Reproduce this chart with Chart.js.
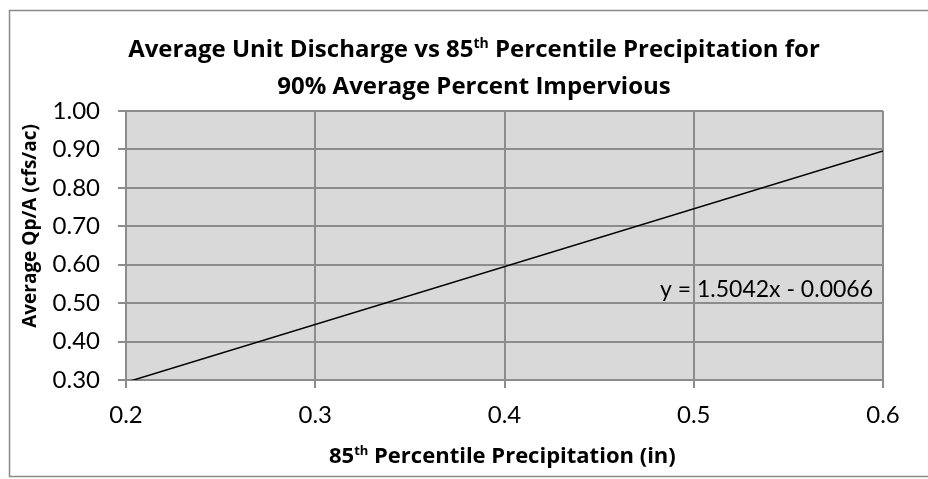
<!DOCTYPE html>
<html><head><meta charset="utf-8">
<script src="https://cdn.jsdelivr.net/npm/chart.js@4"></script>
<style>html,body{margin:0;padding:0;background:#fff}</style>
</head><body>
<canvas id="c" width="928" height="479"></canvas>
<script>
// ---- data ----
const xValues = [0.2, 0.6];
const yValues = [0.294, 0.896];
const xTicks = [0.2, 0.3, 0.4, 0.5, 0.6];
const yTicks = [0.30, 0.40, 0.50, 0.60, 0.70, 0.80, 0.90, 1.00];
const titleLine1 = [["Average Unit Discharge vs 85", false], ["th", true], [" Percentile Precipitation for", false]];
const titleLine2 = [["90% Average Percent Impervious", false]];
const xTitle = [["85", false], ["th", true], [" Percentile Precipitation (in)", false]];
const yTitle = "Average Qp/A (cfs/ac)";
const eqText = "y = 1.5042x - 0.0066";
const eqAt = { x: 0.6, y: 0.534 };

const FONT = "Lato";
const BFONT = "Open Sans";
const GRID = "#8c8c8c";

function richWidth(ctx, segs, size, weight, fam) {
  let w = 0;
  segs.forEach(([t, s]) => { ctx.font = `${weight} ${s ? Math.round(size * 0.6) : size}px "${fam}"`; w += ctx.measureText(t).width; });
  return w;
}
function drawRich(ctx, segs, startX, baseY, size, weight, fam) {
  let x = startX;
  ctx.textAlign = "left";
  ctx.textBaseline = "alphabetic";
  segs.forEach(([t, s]) => {
    ctx.font = `${weight} ${s ? Math.round(size * 0.6) : size}px "${fam}"`;
    ctx.fillText(t, x, s ? baseY - size * 0.36 : baseY);
    x += ctx.measureText(t).width;
  });
}
function drawRichCentered(ctx, segs, cx, baseY, size, weight, fam) {
  drawRich(ctx, segs, cx - richWidth(ctx, segs, size, weight, fam) / 2, baseY, size, weight, fam);
}

const decor = {
  id: "decor",
  beforeDraw(chart) {
    const { ctx, chartArea: a } = chart;
    ctx.save();
    ctx.fillStyle = "#fff";
    ctx.fillRect(0, 0, chart.width, chart.height);
    ctx.fillStyle = "#d9d9d9";
    ctx.fillRect(a.left, a.top, a.right - a.left, a.bottom - a.top);
    ctx.restore();
  },
  afterDraw(chart) {
    const { ctx, scales } = chart;
    ctx.save();
    ctx.strokeStyle = "#8a8a8a";
    ctx.lineWidth = 1.5;
    ctx.strokeRect(9.5, 10.5, 940, 466);
    ctx.fillStyle = "#000";
    drawRichCentered(ctx, titleLine1, 474, 57, 24, "bold", BFONT);
    drawRichCentered(ctx, titleLine2, 474, 94, 24, "bold", BFONT);
    drawRich(ctx, xTitle, 329, 463, 22, "bold", BFONT);
    ctx.save();
    ctx.translate(31, 226);
    ctx.rotate(-Math.PI / 2);
    ctx.font = `bold 19px "${BFONT}"`;
    ctx.textAlign = "center";
    ctx.textBaseline = "middle";
    ctx.fillText(yTitle, 0, 0);
    ctx.restore();
    ctx.font = `23px "${FONT}"`;
    ctx.textAlign = "right";
    ctx.textBaseline = "middle";
    ctx.fillText(eqText, scales.x.getPixelForValue(eqAt.x) - 10, scales.y.getPixelForValue(eqAt.y));
    ctx.restore();
  }
};

new Chart(document.getElementById("c"), {
  type: "scatter",
  data: {
    datasets: [{
      data: xValues.map((x, i) => ({ x, y: yValues[i] })),
      showLine: true,
      borderColor: "#000",
      borderWidth: 1.5,
      pointRadius: 0,
      pointHoverRadius: 0,
      fill: false
    }]
  },
  options: {
    responsive: false,
    animation: false,
    events: [],
    layout: { padding: { top: 111, right: 45, left: 0, bottom: 0 } },
    plugins: { legend: { display: false }, title: { display: false }, tooltip: { enabled: false } },
    scales: {
      x: {
        type: "linear",
        min: xTicks[0], max: xTicks[xTicks.length - 1],
        afterBuildTicks: s => { s.ticks = xTicks.map(v => ({ value: v })); },
        afterFit: s => { s.height = 99; },
        ticks: { font: { family: FONT, size: 24 }, color: "#000", padding: 13, maxRotation: 0,
          callback: v => String(v) },
        grid: { color: GRID, lineWidth: 2, tickLength: 8, drawOnChartArea: true },
        border: { color: GRID, width: 2 }
      },
      y: {
        type: "linear",
        min: yTicks[0], max: yTicks[yTicks.length - 1],
        afterBuildTicks: s => { s.ticks = yTicks.map(v => ({ value: v })); },
        afterFit: s => { s.width = 126; },
        ticks: { font: { family: FONT, size: 24 }, color: "#000", padding: 18,
          callback: v => Number(v).toFixed(2) },
        grid: { color: GRID, lineWidth: 2, tickLength: 8 },
        border: { color: GRID, width: 2 }
      }
    }
  },
  plugins: [decor]
});
</script>
</body></html>
